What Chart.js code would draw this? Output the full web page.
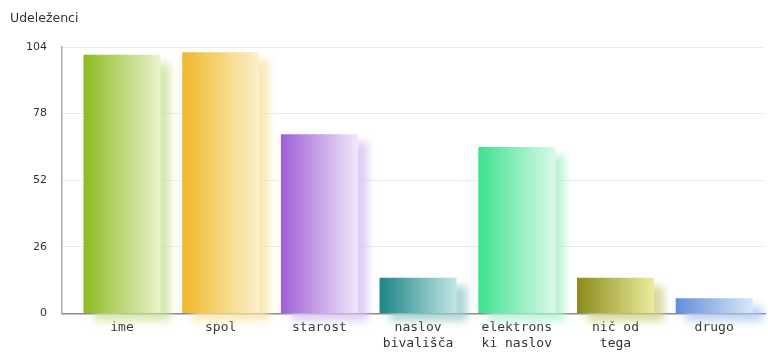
<!DOCTYPE html>
<html>
<head>
<meta charset="utf-8">
<script src="https://cdn.jsdelivr.net/npm/chart.js@4/dist/chart.umd.min.js"></script>
<style>
  html, body { margin: 0; padding: 0; background: #ffffff; }
  #wrap { width: 768px; height: 352px; position: relative; }
</style>
</head>
<body>
<div id="wrap"><canvas id="c" width="768" height="352"></canvas></div>
<script>
// ---- data ----
const categories = ['ime', 'spol', 'starost', ['naslov', 'bivališča'], ['elektrons', 'ki naslov'], ['nič od', 'tega'], 'drugo'];
const values = [101, 102, 70, 14, 65, 14, 6];
const yTicks = [0, 26, 52, 78, 104];
const yTitle = 'Udeleženci';

// ---- styles ----
const darkColors  = ['#8dbb22', '#f0b829', '#9e5fd6', '#1b8585', '#3ee28e', '#8a8a1a', '#5f8fdc'];
const lightColors = ['#eaf3cc', '#fcf1cc', '#f1e8fb', '#c4e6e6', '#dbf9ea', '#ecec9e', '#dbe7f9'];
const shadowColors = ['rgba(200,225,150,0.75)', 'rgba(248,225,160,0.75)', 'rgba(215,190,240,0.75)', 'rgba(150,200,200,0.75)', 'rgba(170,240,205,0.75)', 'rgba(205,205,130,0.75)', 'rgba(170,195,240,0.75)'];

const points = values.map((v, i) => ({ x: i, y: v }));
const BAR_PCT = 0.78;

function gradientFor(c) {
  const chart = c.chart;
  const i = c.dataIndex;
  if (!chart.chartArea || c.type !== 'data') return darkColors[i];
  const xs = chart.scales.x;
  const cx = xs.getPixelForValue(i);
  const unit = xs.getPixelForValue(1) - xs.getPixelForValue(0);
  const half = unit * BAR_PCT / 2;
  const g = chart.ctx.createLinearGradient(cx - half, 0, cx + half, 0);
  g.addColorStop(0, darkColors[i]);
  g.addColorStop(1, lightColors[i]);
  return g;
}

const shadowPlugin = {
  id: 'barShadow',
  beforeDatasetDraw(chart, args) {
    const ctx = chart.ctx;
    args.meta.data.forEach((el, i) => {
      ctx.save();
      ctx.shadowColor = shadowColors[i];
      ctx.shadowOffsetX = 10;
      ctx.shadowOffsetY = 8;
      ctx.shadowBlur = 8;
      el.draw(ctx);
      ctx.restore();
    });
    return false;
  }
};

new Chart(document.getElementById('c'), {
  type: 'bar',
  data: {
    datasets: [{
      data: points,
      backgroundColor: gradientFor,
      borderWidth: 0,
      categoryPercentage: 1,
      barPercentage: BAR_PCT
    }]
  },
  plugins: [shadowPlugin],
  options: {
    responsive: false,
    animation: false,
    events: [],
    layout: { padding: { left: 10, right: 3, top: 0, bottom: 0 } },
    plugins: {
      legend: { display: false },
      tooltip: { enabled: false },
      title: {
        display: true,
        text: yTitle,
        align: 'start',
        color: '#333333',
        font: { family: 'DejaVu Sans', size: 12.5, weight: 'normal' },
        padding: { top: 11, bottom: 21 }
      }
    },
    scales: {
      x: {
        type: 'linear',
        offset: false,
        min: -0.608,
        max: 6.515,
        z: 1,
        grid: { display: false, drawTicks: false },
        border: { display: true, color: '#8a8a8a', width: 1.5 },
        ticks: {
          stepSize: 1,
          includeBounds: false,
          autoSkip: false,
          maxRotation: 0,
          minRotation: 0,
          padding: 6,
          color: '#333333',
          font: { family: 'DejaVu Sans Mono', size: 13, lineHeight: 1.23 },
          callback: (v) => Number.isInteger(v) && categories[v] !== undefined ? categories[v] : ''
        },
        afterFit: (s) => { s.height = 38.5; }
      },
      y: {
        min: 0,
        max: 104,
        afterBuildTicks: (s) => { s.ticks = yTicks.map(v => ({ value: v })); },
        grid: { color: '#ebebeb', lineWidth: 1, drawTicks: false },
        border: { display: true, color: '#aaaaaa', width: 1.5 },
        ticks: {
          padding: 15,
          color: '#333333',
          font: { family: 'DejaVu Sans', size: 11 }
        },
        afterFit: (s) => { s.width = 52; }
      }
    }
  }
});
</script>
</body>
</html>
